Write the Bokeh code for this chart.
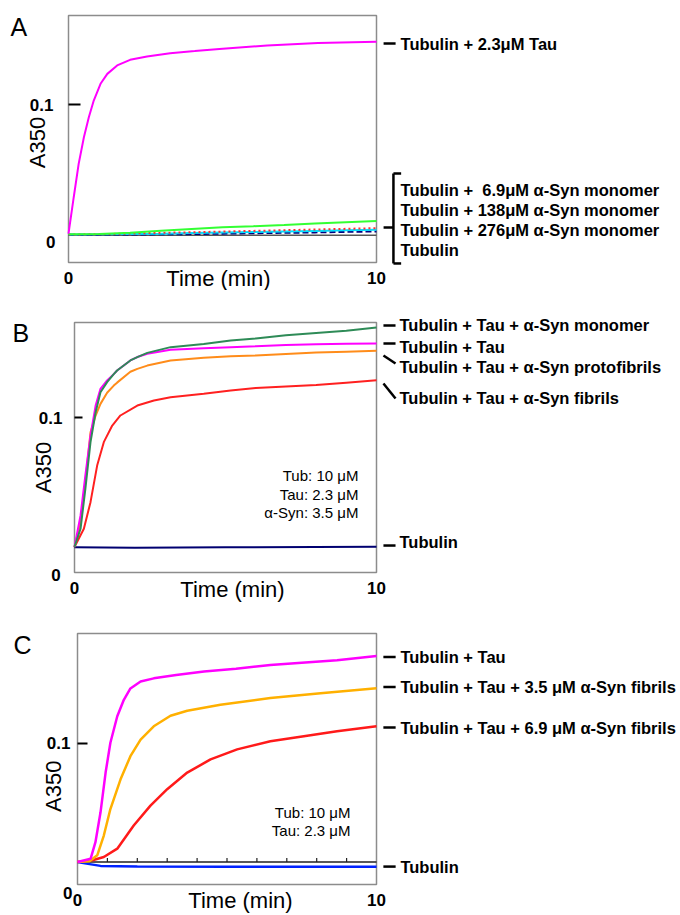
import math
from bokeh.plotting import figure
from bokeh.models import Range1d, Label
from bokeh.layouts import column
from bokeh.embed import file_html
from bokeh.resources import INLINE

FONT = "Liberation Sans"

# ---------------- Panel A data ----------------
a_t_tau = [0, 0.17, 0.33, 0.5, 0.66, 0.82, 1.04, 1.26, 1.58, 2.0, 2.55, 3.3,
           4.1, 4.9, 6.45, 8.1, 10]
a_tau = [0.0065, 0.0328, 0.057, 0.0763, 0.0908, 0.1029, 0.115, 0.1222, 0.1283,
         0.1324, 0.1348, 0.1372, 0.1387, 0.1403, 0.1428, 0.1445, 0.1455]
a_t_low = [0, 1, 2, 3, 4, 5, 6, 7, 8, 9, 10]
a_syn_6_9 = [0.006, 0.0062, 0.007, 0.0085, 0.0098, 0.011, 0.0118, 0.0127, 0.0137,
             0.0146, 0.0155]
a_syn_138 = [0.0058, 0.006, 0.0065, 0.007, 0.0074, 0.0079, 0.0084, 0.0089, 0.0094,
             0.0099, 0.0104]
a_syn_276 = [0.0058, 0.0059, 0.0061, 0.0064, 0.0068, 0.0072, 0.0076, 0.008, 0.0084,
             0.0088, 0.0092]
a_tubulin = [0.0057, 0.0057, 0.0058, 0.0059, 0.0061, 0.0064, 0.0067, 0.007, 0.0073,
             0.0077, 0.008]
a_base = [0.0053] * 11

# ---------------- Panel B data ----------------
b_t = [0, 0.2, 0.36, 0.53, 0.7, 0.86, 1.08, 1.3, 1.41, 1.85, 2.08, 2.41, 3.18,
       4.28, 5.17, 6, 7, 8, 9, 10]
b_tau = [0.0165, 0.0368, 0.0626, 0.0884, 0.1077, 0.1185, 0.1239, 0.128, 0.1303,
         0.1368, 0.139, 0.1411, 0.1437, 0.1447, 0.1454, 0.146, 0.1468, 0.1472,
         0.1476, 0.1478]
b_monomer = [0.0165, 0.0282, 0.054, 0.0841, 0.1034, 0.1163, 0.1228, 0.128, 0.1303,
             0.1368, 0.139, 0.1417, 0.1454, 0.1475, 0.1497, 0.151, 0.153, 0.1545,
             0.156, 0.158]
b_protofibrils = [0.0165, 0.0325, 0.0583, 0.0905, 0.1013, 0.1088, 0.116, 0.1206,
                  0.1225, 0.1295, 0.1314, 0.1335, 0.1368, 0.1385, 0.1396, 0.140,
                  0.141, 0.142, 0.1425, 0.143]
b_t_fib = [0, 0.31, 0.53, 0.75, 0.97, 1.25, 1.52, 2.08, 2.63, 3.18, 4.28, 5.17,
           6, 7, 8, 9, 10]
b_fibrils = [0.0165, 0.0282, 0.0454, 0.069, 0.0841, 0.0948, 0.1013, 0.1077, 0.111,
             0.1131, 0.1153, 0.1174, 0.119, 0.120, 0.121, 0.1225, 0.124]
b_t_tub = [0, 2, 5, 10]
b_tubulin = [0.0163, 0.0160, 0.0163, 0.0166]

# ---------------- Panel C data ----------------
c_t_tau = [0, 0.44, 0.6, 0.77, 0.94, 1.1, 1.33, 1.55, 1.77, 2.11, 2.55, 3.3, 4.23,
           5.3, 6.45, 7.5, 8.68, 10]
c_tau = [0.016, 0.0183, 0.030, 0.0512, 0.0794, 0.1005, 0.1193, 0.131, 0.139, 0.1439,
         0.1462, 0.1485, 0.151, 0.153, 0.1556, 0.1572, 0.159, 0.162]
c_t_35 = [0, 0.4, 0.66, 0.88, 1.1, 1.44, 1.77, 2.11, 2.55, 3.11, 3.67, 4.78, 6.45,
          8.13, 10]
c_fib_35 = [0.016, 0.0165, 0.0207, 0.0347, 0.0535, 0.0746, 0.091, 0.1028, 0.1122,
            0.1197, 0.1232, 0.1275, 0.1322, 0.1357, 0.1392]
c_t_69 = [0, 0.5, 0.88, 1.33, 1.88, 2.44, 3.0, 3.67, 4.45, 5.34, 6.45, 7.57, 8.68, 10]
c_fib_69 = [0.016, 0.0172, 0.0195, 0.0254, 0.0418, 0.0559, 0.0676, 0.0794, 0.0887,
            0.0958, 0.1016, 0.1052, 0.1087, 0.1122]
c_t_tub = [0, 0.3, 0.77, 2, 5, 10]
c_tubulin = [0.016, 0.0148, 0.0132, 0.0128, 0.0126, 0.0126]
c_t_base = [0, 10]
c_base = [0.016, 0.016]
c_base_ticks = [1, 2, 3, 4, 5, 6, 7, 8, 9]

x_ticks = [0, 10]
y_ticks = [0.1]
x_min, x_max = 0, 10

PAGE_W = 680
BOX_RIGHT = 376  # right edge of the plot box, canvas px
LAB = "16.5px"


def make_panel(height, box_left, box_top, box_bottom, y_lo, y_hi):
    ppm = (BOX_RIGHT - box_left) / (x_max - x_min)
    ppu = (box_bottom - box_top) / (y_hi - y_lo)
    xr = Range1d(x_min - box_left / ppm, x_max + (PAGE_W - BOX_RIGHT) / ppm)
    yr = Range1d(y_lo - (height - box_bottom) / ppu, y_hi + box_top / ppu)
    p = figure(width=PAGE_W, height=height, x_range=xr, y_range=yr,
               output_backend="svg", toolbar_location=None,
               x_axis_location=None, y_axis_location=None, min_border=0)
    p.grid.visible = False
    p.outline_line_color = None
    p.background_fill_color = "white"
    p.border_fill_color = "white"
    p.quad(left=[x_min], right=[x_max], bottom=[y_lo], top=[y_hi],
           fill_color=None, line_color="#8c8c8c", line_width=1.5)
    return p, ppm, ppu


def txt(p, x, y, s, size=LAB, bold=True, align="left", angle=0.0):
    p.add_layout(Label(x=x, y=y, text=s, text_font=FONT, text_font_size=size,
                       text_font_style="bold" if bold else "normal",
                       text_baseline="middle", text_align=align, angle=angle,
                       text_color="black"))


def seg(p, x0, y0, x1, y1, w=2.5):
    p.segment(x0=[x0], y0=[y0], x1=[x1], y1=[y1], line_width=w,
              line_color="black", line_cap="butt")


def axes(p, ppm, ppu, tick_px, ystand_px, xlab_y, zero_y, zero_x):
    # y ticks (pointing inward) with bold labels
    p.segment(x0=[x_min] * len(y_ticks), y0=y_ticks,
              x1=[x_min + tick_px / ppm] * len(y_ticks), y1=y_ticks,
              line_color="black", line_width=2)
    for v in y_ticks:
        txt(p, x_min - ystand_px / ppm, v, f"{v:g}", size="17px", align="right")
    txt(p, zero_x, zero_y, "0", size="17px", align="right")
    for v in x_ticks:
        txt(p, v, xlab_y, f"{v:g}", size="17px", align="center")


# ---------------- Panel A ----------------
pa, ppm, ppu = make_panel(290, 68, 15, 262, -0.0145, 0.1645)
pa.line(a_t_low, a_base, line_color="#555555", line_width=1.5)
pa.line(a_t_low, a_tubulin, line_color="#000080", line_width=2, line_dash="6 3")
pa.line(a_t_low, a_syn_276, line_color="#00e0ff", line_width=2)
pa.line(a_t_low, a_syn_138, line_color="#ff3030", line_width=2, line_dash="2 3")
pa.line(a_t_low, a_syn_6_9, line_color="#33ff33", line_width=2)
pa.line(a_t_tau, a_tau, line_color="#ff00ff", line_width=2)
axes(pa, ppm, ppu, 12, 15, -0.0254, 0.0, -0.42)

txt(pa, -1.88, 0.1565, "A", size="25px", bold=False)
txt(pa, -1.0, 0.0725, "A350", size="22px", bold=False, align="center", angle=math.pi / 2)
txt(pa, 4.87, -0.0258, "Time (min)", size="22px", bold=False, align="center")

seg(pa, 10.23, 0.1442, 10.62, 0.1442)
txt(pa, 10.78, 0.1442, "Tubulin + 2.3μM Tau")
seg(pa, 10.23, 0.0109, 10.55, 0.0109)
seg(pa, 10.55, 0.050, 10.55, -0.0152)
seg(pa, 10.55, 0.050, 10.80, 0.050)
seg(pa, 10.55, -0.0152, 10.80, -0.0152)
txt(pa, 10.78, 0.0377, "Tubulin + \u00a06.9μM α-Syn monomer")
txt(pa, 10.78, 0.0239, "Tubulin + 138μM α-Syn monomer")
txt(pa, 10.78, 0.0094, "Tubulin + 276μM α-Syn monomer")
txt(pa, 10.78, -0.0058, "Tubulin")

# ---------------- Panel B ----------------
pb, ppm, ppu = make_panel(315, 74, 32, 282, 0.0, 0.1613)
pb.line(b_t_tub, b_tubulin, line_color="#000070", line_width=2)
pb.line(b_t_fib, b_fibrils, line_color="#ff2020", line_width=2)
pb.line(b_t, b_protofibrils, line_color="#ff8c1a", line_width=2)
pb.line(b_t, b_tau, line_color="#ff00ff", line_width=2)
pb.line(b_t, b_monomer, line_color="#2e8b57", line_width=2)
axes(pb, ppm, ppu, 8, 12, -0.0103, -0.0019, -0.46)

txt(pb, -2.05, 0.1548, "B", size="25px", bold=False)
txt(pb, -1.03, 0.0677, "A350", size="22px", bold=False, align="center", angle=math.pi / 2)
txt(pb, 5.23, -0.011, "Time (min)", size="22px", bold=False, align="center")
txt(pb, 9.40, 0.0626, "Tub: 10 μM", size="15px", bold=False, align="right")
txt(pb, 9.40, 0.0503, "Tau: 2.3 μM", size="15px", bold=False, align="right")
txt(pb, 9.40, 0.0387, "α-Syn: 3.5 μM", size="15px", bold=False, align="right")

seg(pb, 10.23, 0.1594, 10.63, 0.1594)
txt(pb, 10.76, 0.1594, "Tubulin + Tau + α-Syn monomer")
seg(pb, 10.23, 0.1477, 10.63, 0.1477)
txt(pb, 10.76, 0.1458, "Tubulin + Tau")
seg(pb, 10.23, 0.1400, 10.63, 0.1348)
txt(pb, 10.76, 0.1323, "Tubulin + Tau + α-Syn protofibrils")
seg(pb, 10.23, 0.1219, 10.63, 0.1123)
txt(pb, 10.76, 0.1123, "Tubulin + Tau + α-Syn fibrils")
seg(pb, 10.23, 0.0174, 10.63, 0.0174)
txt(pb, 10.76, 0.0194, "Tubulin")

# ---------------- Panel C ----------------
pc, ppm, ppu = make_panel(308, 77, 28, 279, 0.0, 0.178)
pc.line(c_t_base, c_base, line_color="#222222", line_width=1.5)
pc.segment(x0=c_base_ticks, y0=[c_base[0]] * len(c_base_ticks),
           x1=c_base_ticks, y1=[c_base[0] + 4 / ppu] * len(c_base_ticks),
           line_color="#222222", line_width=1.2)
pc.line(c_t_tub, c_tubulin, line_color="#0022ff", line_width=2.5)
pc.line(c_t_69, c_fib_69, line_color="#ff1a1a", line_width=2.5)
pc.line(c_t_35, c_fib_35, line_color="#ffb000", line_width=2.5)
pc.line(c_t_tau, c_tau, line_color="#ff00ff", line_width=2.5)
axes(pc, ppm, ppu, 10, 7, -0.0113, -0.0057, -0.17)

txt(pc, -2.14, 0.1697, "C", size="25px", bold=False)
txt(pc, -0.80, 0.0697, "A350", size="22px", bold=False, align="center", angle=math.pi / 2)
txt(pc, 5.45, -0.0113, "Time (min)", size="22px", bold=False, align="center")
txt(pc, 9.13, 0.0514, "Tub: 10 μM", size="15px", bold=False, align="right")
txt(pc, 9.13, 0.0380, "Tau: 2.3 μM", size="15px", bold=False, align="right")

seg(pc, 10.23, 0.1613, 10.64, 0.1613)
txt(pc, 10.80, 0.1613, "Tubulin + Tau")
seg(pc, 10.23, 0.1401, 10.64, 0.1401)
txt(pc, 10.80, 0.1401, "Tubulin + Tau + 3.5 μM α-Syn fibrils")
seg(pc, 10.23, 0.1113, 10.64, 0.1113)
txt(pc, 10.80, 0.1113, "Tubulin + Tau + 6.9 μM α-Syn fibrils")
seg(pc, 10.23, 0.0127, 10.64, 0.0127)
txt(pc, 10.80, 0.0127, "Tubulin")

layout = column(pa, pb, pc)
open("out.html", "w").write(file_html(layout, INLINE))
